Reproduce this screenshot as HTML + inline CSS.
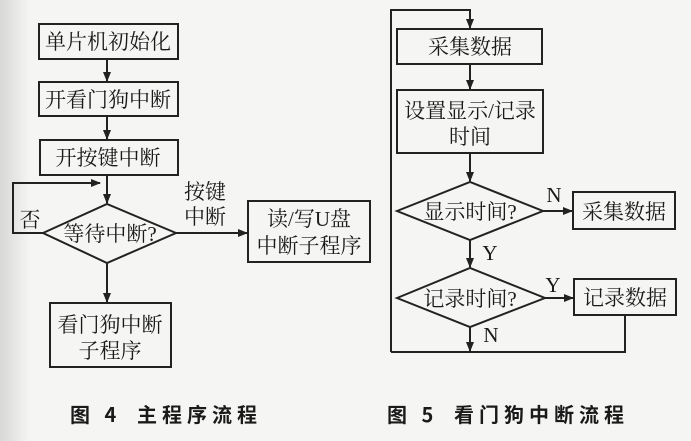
<!DOCTYPE html>
<html><head><meta charset="utf-8"><style>
body{margin:0;background:#f5f5f3;}
svg{display:block}
text{font-family:"Liberation Serif","Noto Serif CJK SC","Noto Sans CJK SC",serif;fill:#1a1a1a;font-size:21px}
.c{font-family:"Noto Sans CJK SC","WenQuanYi Zen Hei",sans-serif;font-weight:bold;font-size:20px;letter-spacing:5px}
</style></head><body>
<svg width="691" height="441" viewBox="0 0 691 441" xmlns="http://www.w3.org/2000/svg">
<defs>
<linearGradient id="g" x1="0" x2="1"><stop offset="0" stop-color="#d8d8d6"/><stop offset="1" stop-color="#f5f5f3"/></linearGradient>
<marker id="a" markerWidth="10" markerHeight="8" refX="9" refY="4" orient="auto" markerUnits="userSpaceOnUse"><path d="M0,0 L10,4 L0,8 Z" fill="#222"/></marker>
</defs>
<rect x="0" y="0" width="30" height="441" fill="url(#g)"/>
<g stroke="#222" stroke-width="2" fill="none">
<rect x="39" y="24" width="139" height="35"/>
<rect x="39" y="82" width="139" height="34"/>
<rect x="40" y="140" width="138" height="35"/>
<polygon points="43,233 107,204 176,233 107,263"/>
<rect x="248" y="201" width="122" height="61"/>
<rect x="50" y="303" width="121" height="64"/>
<line x1="107" y1="59" x2="107" y2="81" marker-end="url(#a)"/>
<line x1="107" y1="116" x2="107" y2="139" marker-end="url(#a)"/>
<line x1="107" y1="175" x2="107" y2="203" marker-end="url(#a)"/>
<polyline points="43,233 13,233 13,183 100,183" marker-end="url(#a)"/>
<line x1="176" y1="233" x2="247" y2="233" marker-end="url(#a)"/>
<line x1="107" y1="263" x2="107" y2="302" marker-end="url(#a)"/>

<rect x="397" y="29" width="145" height="35"/>
<rect x="397" y="90" width="146" height="63"/>
<polygon points="397,211 470,182 543,211 470,240"/>
<polygon points="397,298 470,268 545,298 470,327"/>
<rect x="573" y="192" width="102" height="37"/>
<rect x="574" y="279" width="102" height="36"/>
<polyline points="391,352 391,10 470,10 470,28" marker-end="url(#a)"/>
<line x1="470" y1="64" x2="470" y2="89" marker-end="url(#a)"/>
<line x1="470" y1="153" x2="470" y2="181" marker-end="url(#a)"/>
<line x1="543" y1="211" x2="572" y2="211" marker-end="url(#a)"/>
<line x1="470" y1="240" x2="470" y2="267" marker-end="url(#a)"/>
<line x1="545" y1="298" x2="573" y2="298" marker-end="url(#a)"/>
<line x1="470" y1="327" x2="470" y2="351" marker-end="url(#a)"/>
<polyline points="625,315 625,352 391,352"/>
</g>
<g text-anchor="middle">
<text x="108" y="49">单片机初始化</text>
<text x="108" y="107">开看门狗中断</text>
<text x="108" y="165">开按键中断</text>
<text x="110" y="241">等待中断?</text>
<text x="30" y="227">否</text>
<text x="205" y="199">按键</text>
<text x="205" y="224">中断</text>
<text x="309" y="226">读/写U盘</text>
<text x="309" y="253">中断子程序</text>
<text x="110" y="332">看门狗中断</text>
<text x="110" y="358">子程序</text>
<text x="470" y="54">采集数据</text>
<text x="470" y="118">设置显示/记录</text>
<text x="470" y="144">时间</text>
<text x="470" y="219">显示时间?</text>
<text x="470" y="306">记录时间?</text>
<text x="624" y="219">采集数据</text>
<text x="625" y="305">记录数据</text>
<text x="554" y="202">N</text>
<text x="490" y="260">Y</text>
<text x="553" y="292">Y</text>
<text x="491" y="342">N</text>
</g>
<text class="c" x="70" y="422">图 4</text>
<text class="c" x="137" y="422">主程序流程</text>
<text class="c" x="387" y="422">图 5</text>
<text class="c" x="454" y="422">看门狗中断流程</text>
</svg>
</body></html>
